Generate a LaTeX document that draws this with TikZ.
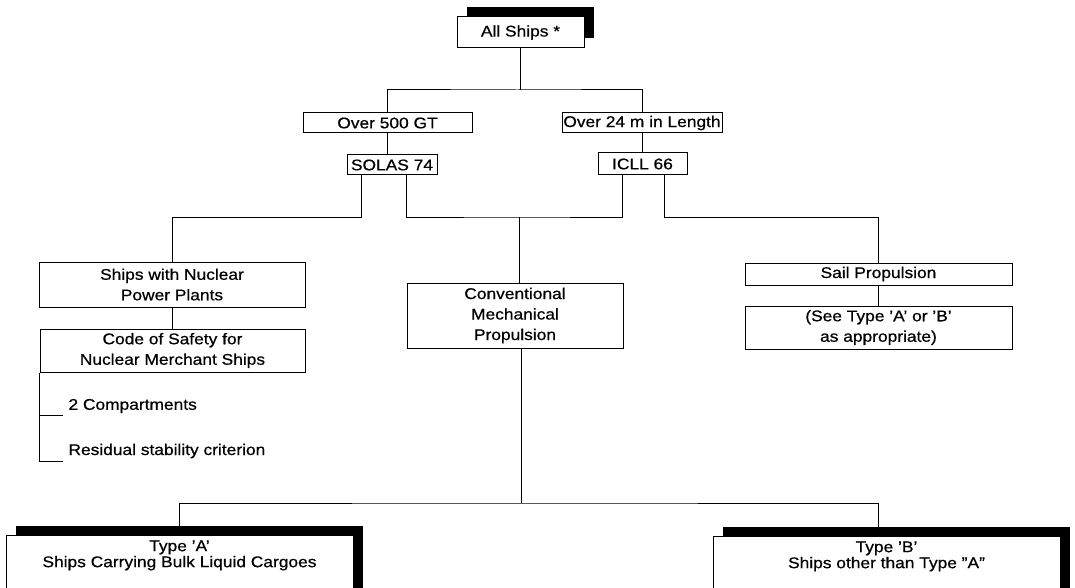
\documentclass[tikz,border=0pt]{standalone}
\usepackage{fontspec}
\setmainfont{Liberation Sans}[FakeStretch=1.12,FakeBold=0.6]
\usetikzlibrary{positioning, shadows}

\begin{document}
\begin{tikzpicture}[x=1pt,y=-1pt,line width=1pt,
    box/.style={draw,fill=white,inner sep=0pt,align=center,font=\fontsize{15.5}{20.5}\selectfont},
    shadowed/.style={drop shadow={shadow xshift=10pt,shadow yshift=10pt,fill=black,opacity=1}},
    typebox/.style={box,shadowed,anchor=north,minimum width=347,inner ysep=5pt,text depth=45pt,font=\fontsize{15.5}{16}\selectfont},
    sidetext/.style={anchor=west,inner sep=0pt,font=\fontsize{15.5}{18}\selectfont}]
    \useasboundingbox (0,0) rectangle (1075,588);
    \clip (0,0) rectangle (1075,588);

    \node[box,shadowed,minimum width=127,minimum height=31] (allships) at (520.5,32.5) {All Ships *};
    \node[box,minimum width=169,minimum height=20] (over500) at (387.5,123) {Over 500 GT};
    \node[box,minimum width=90,minimum height=20] (solas) at (392,165) {SOLAS 74};
    \node[box,minimum width=160,minimum height=20] (over24) at (642,123) {Over 24 m in Length};
    \node[box,minimum width=89,minimum height=22] (icll) at (642.5,164) {ICLL 66};
    \node[box,minimum width=266,minimum height=45] (nuclear) at (172,284.5) {Ships with Nuclear\\Power Plants};
    \node[box,minimum width=265,minimum height=43] (code) at (172.5,350.5) {Code of Safety for\\Nuclear Merchant Ships};
    \node[box,minimum width=216,minimum height=65] (conv) at (515,315.5) {Conventional\\Mechanical\\Propulsion};
    \node[box,minimum width=267,minimum height=22] (sail) at (878.5,274) {Sail Propulsion};
    \node[box,minimum width=267,minimum height=43] (seetype) at (878.5,327.5) {(See Type 'A' or 'B'\\as appropriate)};
    \node[typebox] (typeA) at (179.5,535) {Type 'A'\\Ships Carrying Bulk Liquid Cargoes};
    \node[typebox] (typeB) at (886.5,536) {Type 'B'\\Ships other than Type "A"};

    \node[sidetext] (comp) at (68,406) {2 Compartments};
    \node[sidetext] (resid) at (68,451) {Residual stability criterion};

    \coordinate (top) at (517,90);
    \coordinate (mid) at (519,217);
    \coordinate (low) at (521,503);
    \coordinate (tick1) at (63,415);
    \coordinate (tick2) at (63,461);

    \draw (allships) -- (allships |- top);
    \draw (over500) |- (top) -| (over24);
    \draw (over500) -- (over500 |- solas.north);
    \draw (over24) -- (over24 |- icll.north);
    \draw ([xshift=-31pt]solas.south) -- ([xshift=-31pt]solas.south |- mid) -| (nuclear);
    \draw ([xshift=14pt]solas.south) |- (mid) -| ([xshift=-20pt]icll.south);
    \draw ([xshift=22pt]icll.south) |- (mid -| sail) -- (sail);
    \draw (mid) -- (mid |- conv.north);
    \draw (nuclear) -- (nuclear |- code.north);
    \draw (sail) -- (seetype);
    \draw (code.south west) |- (tick2);
    \draw (code.south west |- tick1) -- (tick1);
    \draw (low |- conv.south) -- (low);
    \draw (typeA) |- (low) -| ([xshift=-8pt]typeB.north);
\end{tikzpicture}
\end{document}
